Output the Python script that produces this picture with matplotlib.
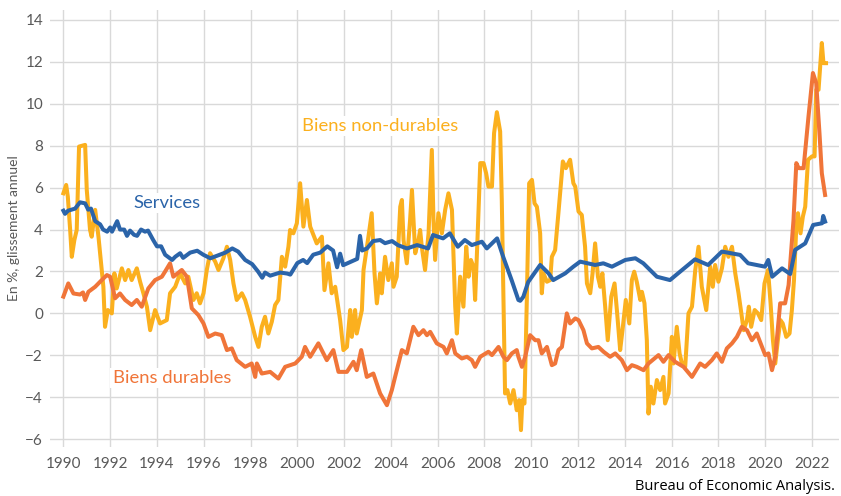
import numpy as np
import matplotlib
matplotlib.use("Agg")
import matplotlib.pyplot as plt

plt.rcParams['font.family'] = ['Lato', 'DejaVu Sans']

# Services (blue)
serv_t = [1990.0, 1990.07, 1990.2, 1990.5, 1990.71, 1990.93, 1991.06, 1991.18, 1991.36, 1991.57,
          1991.7, 1991.87, 1992.0, 1992.08, 1992.3, 1992.42, 1992.6, 1992.72, 1992.85, 1993.02,
          1993.15, 1993.32, 1993.49, 1993.62, 1993.84, 1994.0, 1994.18, 1994.35, 1994.65, 1994.78,
          1994.99, 1995.12, 1995.42, 1995.72, 1995.98, 1996.28, 1996.57, 1996.92, 1997.22, 1997.47,
          1997.77, 1998.07, 1998.32, 1998.5, 1998.62, 1998.84, 1999.27, 1999.57, 1999.7, 2000.0,
          2000.25, 2000.42, 2000.68, 2000.98, 2001.28, 2001.53, 2001.7, 2001.83, 2001.96, 2002.26,
          2002.56, 2002.68, 2002.77, 2002.98, 2003.24, 2003.54, 2003.75, 2004.05, 2004.31, 2004.69,
          2005.12, 2005.59, 2005.8, 2006.23, 2006.52, 2006.86, 2007.16, 2007.46, 2007.89, 2008.1,
          2008.54, 2008.8, 2009.16, 2009.45, 2009.53, 2009.66, 2009.87, 2010.38, 2010.74, 2010.94,
          2011.45, 2011.8, 2012.09, 2012.73, 2013.08, 2013.45, 2014.02, 2014.45, 2014.79, 2015.37,
          2015.93, 2016.36, 2017.0, 2017.56, 2018.15, 2018.93, 2019.27, 2019.99, 2020.13, 2020.3,
          2020.72, 2021.07, 2021.28, 2021.71, 2022.05, 2022.43, 2022.48, 2022.56]
serv_v = [4.9, 4.75, 4.9, 5.0, 5.3, 5.25, 4.95, 5.0, 4.4, 4.25,
          4.0, 3.9, 4.1, 3.9, 4.4, 4.0, 4.0, 3.7, 3.95, 3.75,
          3.7, 4.0, 3.9, 3.95, 3.5, 3.2, 3.2, 2.8, 2.55, 2.7,
          2.87, 2.65, 2.9, 2.99, 2.8, 2.63, 2.75, 2.9, 3.1, 2.95,
          2.55, 2.35, 2.0, 1.7, 1.95, 1.8, 1.95, 1.9, 1.85, 2.4,
          2.55, 2.4, 2.8, 2.9, 3.2, 3.0, 2.2, 2.85, 2.3, 2.45,
          2.6, 3.7, 3.0, 3.1, 3.45, 3.5, 3.35, 3.45, 3.25, 3.1,
          3.26, 3.1, 3.74, 3.58, 3.82, 3.18, 3.5, 3.26, 3.42, 3.1,
          3.58, 2.7, 1.59, 0.64, 0.6, 0.79, 1.5, 2.31, 1.91, 1.59,
          1.91, 2.23, 2.47, 2.31, 2.39, 2.23, 2.55, 2.63, 2.39, 1.75,
          1.59, 1.99, 2.58, 2.31, 2.95, 2.79, 2.39, 2.23, 2.55, 1.75,
          2.15, 1.88, 3.03, 3.34, 4.22, 4.3, 4.65, 4.38]

# Biens durables (orange)
dur_t = [1990.0, 1990.21, 1990.43, 1990.71, 1990.84, 1990.93, 1991.07, 1991.36, 1991.57, 1991.86,
         1992.0, 1992.21, 1992.42, 1992.64, 1992.92, 1993.14, 1993.35, 1993.63, 1993.92, 1994.21,
         1994.35, 1994.56, 1994.7, 1995.06, 1995.28, 1995.49, 1995.77, 1995.99, 1996.2, 1996.49,
         1996.77, 1996.99, 1997.2, 1997.41, 1997.77, 1998.05, 1998.2, 1998.27, 1998.48, 1998.84,
         1999.19, 1999.48, 1999.91, 2000.19, 2000.33, 2000.55, 2000.9, 2001.26, 2001.54, 2001.76,
         2002.12, 2002.4, 2002.54, 2002.73, 2002.97, 2003.25, 2003.54, 2003.83, 2004.04, 2004.18,
         2004.47, 2004.68, 2004.96, 2005.18, 2005.39, 2005.54, 2005.68, 2005.96, 2006.25, 2006.39,
         2006.61, 2006.75, 2007.03, 2007.25, 2007.46, 2007.6, 2007.82, 2008.17, 2008.32, 2008.6,
         2008.81, 2008.96, 2009.17, 2009.38, 2009.45, 2009.6, 2009.74, 2009.95, 2010.17, 2010.31,
         2010.45, 2010.67, 2010.88, 2011.02, 2011.16, 2011.31, 2011.52, 2011.66, 2011.88, 2012.02,
         2012.23, 2012.38, 2012.59, 2012.87, 2013.09, 2013.37, 2013.59, 2013.87, 2014.09, 2014.3,
         2014.51, 2014.8, 2015.01, 2015.44, 2015.65, 2015.87, 2016.15, 2016.51, 2016.87, 2017.22,
         2017.43, 2017.72, 2017.93, 2018.15, 2018.36, 2018.58, 2018.79, 2019.0, 2019.22, 2019.43,
         2019.64, 2020.0, 2020.14, 2020.29, 2020.43, 2020.64, 2020.85, 2021.0, 2021.21, 2021.33,
         2021.43, 2021.64, 2021.85, 2022.04, 2022.18, 2022.32, 2022.42, 2022.56]
dur_v = [0.8, 1.43, 0.95, 0.9, 1.0, 0.64, 1.03, 1.27, 1.51, 1.83,
         1.75, 0.72, 0.95, 0.64, 0.4, 0.64, 0.32, 1.19, 1.59, 1.75,
         2.0, 2.39, 1.75, 2.07, 1.75, 0.24, -0.08, -0.48, -1.12, -0.96,
         -1.04, -1.75, -1.67, -2.23, -2.55, -2.39, -3.03, -2.39, -2.87, -2.79,
         -3.11, -2.55, -2.39, -2.07, -1.6, -2.07, -1.43, -2.23, -1.75, -2.79,
         -2.79, -2.31, -2.71, -1.75, -3.03, -2.87, -3.82, -4.38, -3.66, -3.03,
         -1.75, -1.91, -0.64, -1.04, -0.8, -1.04, -0.88, -1.43, -1.6, -1.91,
         -1.28, -1.91, -2.15, -2.07, -2.23, -2.55, -2.07, -1.83, -1.99, -1.6,
         -2.07, -2.23, -1.91, -1.75, -2.07, -2.55, -2.07, -1.04, -1.28, -1.28,
         -1.91, -1.6, -2.47, -2.39, -1.75, -1.6, 0.0, -0.48, -0.24, -0.32,
         -0.8, -1.43, -1.67, -1.6, -1.83, -2.07, -1.91, -2.23, -2.71, -2.47,
         -2.55, -2.71, -2.39, -1.99, -2.31, -1.99, -2.31, -2.55, -3.03, -2.39,
         -2.55, -2.23, -1.91, -2.31, -1.67, -1.43, -1.12, -0.64, -0.8, -1.28,
         -0.96, -1.99, -1.91, -2.71, -2.07, 0.48, 0.48, 1.35, 4.46, 7.17,
         6.93, 6.93, 9.39, 11.47, 10.99, 8.6, 6.69, 5.65]

# Biens non-durables (yellow)
nondur_t = [1990.0, 1990.12, 1990.19, 1990.29, 1990.36, 1990.47, 1990.57, 1990.67, 1990.93, 1991.0,
            1991.14, 1991.21, 1991.36, 1991.5, 1991.71, 1991.78, 1991.9, 1992.07, 1992.18, 1992.28,
            1992.5, 1992.64, 1992.78, 1992.92, 1993.14, 1993.28, 1993.42, 1993.57, 1993.71, 1993.92,
            1994.13, 1994.42, 1994.56, 1994.78, 1994.99, 1995.21, 1995.34, 1995.56, 1995.7, 1995.84,
            1995.99, 1996.13, 1996.27, 1996.49, 1996.63, 1996.84, 1996.99, 1997.13, 1997.27, 1997.41,
            1997.63, 1997.77, 1997.98, 1998.2, 1998.34, 1998.48, 1998.62, 1998.76, 1998.91, 1999.05,
            1999.19, 1999.34, 1999.48, 1999.62, 1999.69, 1999.83, 1999.98, 2000.12, 2000.26, 2000.41,
            2000.55, 2000.83, 2001.05, 2001.16, 2001.33, 2001.47, 2001.62, 2001.83, 2001.97, 2002.12,
            2002.26, 2002.33, 2002.47, 2002.54, 2002.76, 2002.83, 2003.04, 2003.18, 2003.3, 2003.4,
            2003.54, 2003.61, 2003.75, 2003.89, 2004.04, 2004.11, 2004.25, 2004.4, 2004.47, 2004.54,
            2004.68, 2004.82, 2004.9, 2005.04, 2005.18, 2005.25, 2005.32, 2005.46, 2005.61, 2005.75,
            2005.82, 2005.89, 2006.03, 2006.18, 2006.32, 2006.46, 2006.61, 2006.67, 2006.75, 2006.82,
            2006.96, 2007.1, 2007.22, 2007.32, 2007.42, 2007.53, 2007.6, 2007.7, 2007.82, 2007.96,
            2008.07, 2008.17, 2008.32, 2008.41, 2008.53, 2008.67, 2008.74, 2008.81, 2008.88, 2008.98,
            2009.1, 2009.24, 2009.38, 2009.48, 2009.56, 2009.62, 2009.71, 2009.81, 2009.91, 2010.03,
            2010.14, 2010.24, 2010.38, 2010.45, 2010.52, 2010.67, 2010.81, 2010.88, 2011.02, 2011.16,
            2011.35, 2011.48, 2011.66, 2011.8, 2011.88, 2012.02, 2012.16, 2012.3, 2012.38, 2012.52,
            2012.62, 2012.73, 2012.85, 2012.95, 2013.04, 2013.16, 2013.27, 2013.42, 2013.56, 2013.66,
            2013.8, 2013.9, 2014.04, 2014.19, 2014.3, 2014.4, 2014.51, 2014.66, 2014.73, 2014.84,
            2014.94, 2015.01, 2015.11, 2015.22, 2015.37, 2015.51, 2015.65, 2015.72, 2015.87, 2016.01,
            2016.08, 2016.22, 2016.34, 2016.44, 2016.58, 2016.72, 2016.87, 2017.01, 2017.15, 2017.29,
            2017.48, 2017.65, 2017.76, 2017.86, 2018.0, 2018.15, 2018.29, 2018.43, 2018.58, 2018.72,
            2018.86, 2019.08, 2019.22, 2019.3, 2019.4, 2019.55, 2019.69, 2019.83, 2019.97, 2020.12,
            2020.23, 2020.33, 2020.43, 2020.54, 2020.65, 2020.75, 2020.9, 2021.04, 2021.14, 2021.23,
            2021.33, 2021.4, 2021.51, 2021.61, 2021.71, 2021.83, 2022.0, 2022.11, 2022.18, 2022.28,
            2022.42, 2022.49, 2022.6]
nondur_v = [5.73, 6.13, 5.57, 3.98, 2.7, 3.5, 3.98, 7.96, 8.04, 5.89,
            3.98, 3.66, 4.94, 3.66, 1.27, -0.64, 0.16, 0.0, 1.91, 1.19,
            2.15, 1.59, 2.07, 1.59, 2.15, 1.51, 0.96, 0.32, -0.8, 0.16,
            -0.48, -0.32, 0.96, 1.27, 1.91, 1.43, 1.75, 0.64, 0.96, 0.48,
            0.96, 2.07, 2.87, 2.47, 2.07, 2.63, 3.18, 2.55, 1.43, 0.64,
            0.96, 0.64, -0.16, -1.12, -1.6, -0.64, -0.16, -0.96, -0.4, 0.4,
            0.64, 2.7, 2.23, 3.18, 3.98, 3.82, 4.3, 6.21, 4.14, 5.41,
            4.14, 3.34, 3.66, 1.11, 2.39, 0.96, 1.27, -0.32, -1.75, -1.6,
            0.16, -1.12, 0.16, -0.96, 0.16, 2.07, 3.66, 4.78, 1.91, 0.48,
            1.91, 0.96, 2.7, 1.59, 2.39, 1.27, 1.75, 5.09, 5.41, 3.5,
            2.39, 4.46, 5.89, 2.87, 3.5, 3.98, 3.18, 2.07, 3.82, 7.8,
            4.46, 2.55, 4.78, 3.82, 4.94, 5.73, 4.94, 3.02, 0.32, -0.96,
            1.75, 0.32, 3.18, 1.75, 2.55, 2.23, 0.64, 3.5, 7.17, 7.17,
            6.69, 6.05, 6.05, 8.6, 9.6, 8.68, 5.41, 0.64, -3.82, -3.66,
            -4.3, -3.66, -4.62, -4.14, -5.57, -4.14, -4.3, 0.64, 6.21, 6.37,
            5.25, 5.09, 3.82, 0.96, 1.91, 1.51, 1.59, 2.7, 3.02, 4.78,
            7.25, 6.93, 7.33, 6.21, 6.05, 4.86, 4.7, 3.18, 1.43, 0.96,
            1.91, 3.34, 1.75, 1.27, 1.91, 0.32, -1.28, 0.8, 1.43, 0.16,
            -1.75, -0.8, 0.64, -0.48, 1.59, 1.99, 1.51, 0.64, 1.03, 0.48,
            -1.28, -4.78, -3.5, -4.3, -3.18, -3.66, -3.03, -4.3, -3.82, -1.12,
            -2.39, -0.64, -1.91, -2.39, -2.55, 0.0, 0.32, 2.07, 3.18, 1.27,
            0.16, 2.23, 1.27, 2.31, 1.51, 2.15, 3.18, 2.7, 3.18, 1.91,
            0.96, -0.8, -0.32, 0.32, -0.64, 0.16, 0.0, -0.32, 1.43, 2.07,
            0.48, -1.28, -2.39, -1.28, -0.32, -0.48, -1.12, -0.96, 0.16, 1.59,
            4.14, 4.78, 3.82, 4.62, 5.09, 7.33, 7.49, 7.49, 10.67, 10.67,
            12.9, 11.94, 11.94]

blue = '#2b64a9'
orange = '#f07539'
yellow = '#fbb01e'
grey = '#595959'

fig = plt.figure(figsize=(8.41, 4.96), dpi=100)
ax = fig.add_axes([0.0595, 0.099, 0.938, 0.881])

ax.plot(nondur_t, nondur_v, color=yellow, lw=2.9)
ax.plot(dur_t, dur_v, color=orange, lw=2.9)
ax.plot(serv_t, serv_v, color=blue, lw=2.9)

ax.set_xlim(1989.43, 2023.15)
ax.set_ylim(-6.37, 14.48)
ax.set_xticks(np.arange(1990, 2023, 2))
ax.set_yticks(np.arange(-6, 15, 2))
ax.grid(True, color='#d9d9d9', lw=1.0)
ax.set_axisbelow(True)
for s in ax.spines.values():
    s.set_visible(False)
ax.tick_params(length=0, labelsize=11, labelcolor=grey)
ax.tick_params(axis='x', pad=7)
ax.tick_params(axis='y', pad=5)
ax.set_ylabel('En %, glissement annuel', color=grey, fontsize=10, labelpad=4)

bb = dict(facecolor='white', edgecolor='none', pad=1.5)
ax.text(1993.0, 5.27, 'Services', color=blue, fontsize=13.3, va='center', bbox=bb)
ax.text(2000.2, 8.95, 'Biens non-durables', color=yellow, fontsize=13.3, va='center', bbox=bb)
ax.text(1992.1, -3.1, 'Biens durables', color=orange, fontsize=13.3, va='center', bbox=bb)

fig.text(0.993, 0.005, 'Bureau of Economic Analysis.', ha='right', va='bottom',
         fontsize=10.5, color='black', family=['Open Sans', 'DejaVu Sans'])

fig.savefig('out.png', dpi=100)
